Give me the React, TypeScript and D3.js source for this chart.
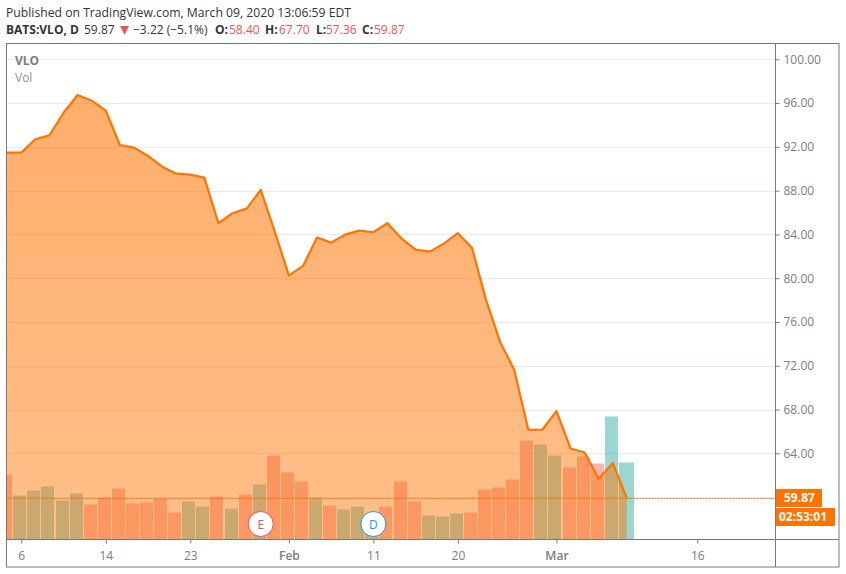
import React, { useEffect, useRef } from 'react';
import * as d3 from 'd3';

// trading-day index, 0 = Jan 6 2020; the first close sits just off the left edge
const closes = [
  91.47, 91.47, 91.47, 92.69, 93.06, 95.12, 96.74, 96.22, 95.31, 92.17, 91.93, 91.17, 90.19, 89.55, 89.46, 89.19,
  85.02, 85.94, 86.36, 88.06, 84.26, 80.24, 81.12, 83.71, 83.25, 83.98, 84.35, 84.2, 85.02, 83.62, 82.61, 82.43,
  83.16, 84.11, 82.79, 78.02, 74.18, 71.63, 66.15, 66.15, 67.85, 64.44, 64.07, 61.67, 63.1, 59.87
];
const firstCloseIndex = -2;

// volume bars start at index -1, heights in arbitrary volume units
const volumes = [
  65, 44, 49, 53, 39, 46, 35, 42, 51, 36, 37, 41, 27, 38, 33, 43, 31, 45, 55, 84, 67, 58, 42, 34, 30, 33, 26,
  33, 58, 38, 24, 23, 26, 27, 50, 52, 60, 99, 95, 84, 72, 83, 76, 123, 77
];
const volumeUp = [
  0, 1, 1, 1, 1, 1, 0, 0, 0, 0, 0, 0, 0, 1, 1, 0, 1, 0, 1, 0, 0, 0, 1, 0, 1, 1, 1,
  0, 0, 0, 1, 1, 1, 0, 0, 0, 0, 0, 1, 1, 0, 0, 0, 1, 1
];
const firstVolumeIndex = -1;

const priceTicks = [64, 68, 72, 76, 80, 84, 88, 92, 96, 100];
const gridPrices = [60, 64, 68, 72, 76, 80, 84, 88, 92, 96, 100];
const dateTickIndex = [0, 6, 12, 19, 25, 31, 38, 48];
const dateTickLabels = ['6', '14', '23', 'Feb', '11', '20', 'Mar', '16'];
const lastPrice = 59.87;
const earningsIndex = 17;
const dividendIndex = 25;

const axisColor = '#787878';
const tickText = '#7d7d7d';
const orange = '#ff7400';
const red = '#ef5350';

const X0 = 6.5, X1 = 775.5, X2 = 839, Y0 = 43.5, Y1 = 539.5, Y2 = 567;
const FONT = '"Open Sans", sans-serif';

export default function App() {
  const svgRef = useRef<SVGSVGElement>(null);

  useEffect(() => {
    if (!svgRef.current) return;
    const svg = d3.select(svgRef.current);
    svg.selectAll('*').remove();

    const x = d3.scaleLinear().domain([0, 48]).range([21.3, 697.3]);
    const y = d3.scaleLinear().domain([64, 100]).range([453.3, 59.3]);
    const vol = d3.scaleLinear().domain([0, 100]).range([Y1, Y1 - 100]);

    const defs = svg.append('defs');
    defs.append('clipPath').attr('id', 'plot')
      .append('rect').attr('x', X0).attr('y', Y0).attr('width', X1 - X0).attr('height', Y1 - Y0);
    const grad = defs.append('linearGradient').attr('id', 'areaFill')
      .attr('gradientUnits', 'userSpaceOnUse')
      .attr('x1', 0).attr('x2', 0).attr('y1', 95).attr('y2', Y1);
    grad.append('stop').attr('offset', 0).attr('stop-color', orange).attr('stop-opacity', 0.58);
    grad.append('stop').attr('offset', 1).attr('stop-color', orange).attr('stop-opacity', 0.46);

    // grid
    svg.append('g').selectAll('line').data(gridPrices).enter().append('line')
      .attr('x1', X0).attr('x2', X1)
      .attr('y1', d => Math.round(y(d)) + 0.5).attr('y2', d => Math.round(y(d)) + 0.5)
      .attr('stroke', '#e3ebf1');

    const plot = svg.append('g').attr('clip-path', 'url(#plot)');

    // volume
    plot.selectAll('rect.vol').data(volumes).enter().append('rect')
      .attr('class', 'vol')
      .attr('x', (d, i) => Math.round(x(i + firstVolumeIndex) - 8))
      .attr('width', (d, i) => (i === volumes.length - 1 ? 15 : 13))
      .attr('y', d => vol(d))
      .attr('height', d => Y1 - vol(d))
      .attr('fill', (d, i) => (volumeUp[i] ? '#26a69a' : red))
      .attr('fill-opacity', (d, i) => (volumeUp[i] ? 0.46 : 0.43));

    // price area + line
    const idx = (d: number, i: number) => x(i + firstCloseIndex);
    const area = d3.area<number>().x(idx).y0(Y1).y1(d => y(d));
    const line = d3.line<number>().x(idx).y(d => y(d));
    plot.append('path').attr('d', area(closes)).attr('fill', 'url(#areaFill)');
    plot.append('path').attr('d', line(closes))
      .attr('fill', 'none').attr('stroke', orange).attr('stroke-width', 2.2).attr('stroke-linejoin', 'round');

    // last price line
    const ly = Math.floor(y(lastPrice));
    svg.append('line')
      .attr('x1', X0).attr('x2', X1)
      .attr('y1', ly + 0.5).attr('y2', ly + 0.5)
      .attr('stroke', orange).attr('stroke-width', 1.2).attr('stroke-dasharray', '2 1');

    // axes
    const yAxis = d3.axisRight(y).tickValues(priceTicks).tickSize(4).tickPadding(4).tickFormat(d => d3.format('.2f')(d as number));
    const xAxis = d3.axisBottom(x).tickValues(dateTickIndex).tickSize(4).tickPadding(8)
      .tickFormat((d, i) => dateTickLabels[i]);

    const yG = svg.append('g').attr('transform', `translate(${X1},0)`).call(yAxis);
    const xG = svg.append('g').attr('transform', `translate(0,${Y1})`).call(xAxis);
    [yG, xG].forEach(g => {
      g.select('.domain').remove();
      g.selectAll('.tick line').attr('stroke', axisColor);
      g.selectAll('.tick text').attr('fill', tickText).style('font-family', FONT).style('font-size', '12px');
    });
    xG.selectAll('.tick text')
      .style('font-weight', (d, i) => (dateTickLabels[i] === 'Feb' || dateTickLabels[i] === 'Mar' ? 600 : 400));

    // frame
    svg.append('rect').attr('x', X0).attr('y', Y0).attr('width', X2 - X0).attr('height', Y2 - Y0)
      .attr('fill', 'none').attr('stroke', axisColor);
    svg.append('line').attr('x1', X1).attr('x2', X1).attr('y1', Y0).attr('y2', Y2).attr('stroke', axisColor);
    svg.append('line').attr('x1', X0).attr('x2', X2).attr('y1', Y1).attr('y2', Y1).attr('stroke', axisColor);

    // last price tick and labels
    svg.append('line').attr('x1', X1).attr('x2', X1 + 4).attr('y1', ly + 0.5).attr('y2', ly + 0.5).attr('stroke', orange);
    svg.append('rect').attr('x', 776).attr('y', ly - 9).attr('width', 46).attr('height', 18).attr('fill', orange);
    svg.append('rect').attr('x', 776).attr('y', ly + 10).attr('width', 59).attr('height', 18).attr('fill', orange);
    const boxText = (tx: number, ty: number, s: string) =>
      svg.append('text').attr('x', tx).attr('y', ty).attr('fill', 'white')
        .style('font-family', FONT).style('font-size', '12px').style('font-weight', 700).text(s);
    boxText(784, ly + 4, lastPrice.toFixed(2));
    boxText(779, ly + 23, '02:53:01');

    // earnings / dividend markers
    const marker = (i: number, s: string, c: string) => {
      svg.append('circle').attr('cx', x(i)).attr('cy', 524).attr('r', 12.5)
        .attr('fill', 'white').attr('stroke', c).attr('stroke-width', 1);
      svg.append('text').attr('x', x(i)).attr('y', 528.5).attr('text-anchor', 'middle').attr('fill', c)
        .style('font-family', FONT).style('font-size', '12px').text(s);
    };
    marker(earningsIndex, 'E', '#f0505a');
    marker(dividendIndex, 'D', '#2196f3');

    // header
    const label = (tx: number, ty: number, s: string, fill: string, weight = 400, size = 12) =>
      svg.append('text').attr('x', tx).attr('y', ty).attr('fill', fill)
        .style('font-family', FONT).style('font-size', `${size}px`).style('font-weight', weight).text(s);
    label(6, 17, 'Published on TradingView.com, March 09, 2020 13:06:59 EDT', '#333', 400, 12.2);
    label(6, 34, 'BATS:VLO, D', '#333', 700);
    label(84, 34, '59.87', '#333');
    svg.append('path').attr('d', d3.line()([[120, 26], [129, 26], [124.5, 35]]) + 'Z').attr('fill', red);
    label(133, 34, '\u22123.22 (\u22125.1%)', '#333');
    label(215, 34, 'O:', '#333', 700);
    label(229, 34, '58.40', red);
    label(265, 34, 'H:', '#333', 700);
    label(279, 34, '67.70', red);
    label(316, 34, 'L:', '#333', 700);
    label(326, 34, '57.36', red);
    label(362, 34, 'C:', '#333', 700);
    label(374, 34, '59.87', red);

    label(15, 65, 'VLO', '#7d7d7d', 700);
    label(15, 82, 'Vol', '#8f8f8f');
  }, []);

  return (
    <svg ref={svgRef} width={846} height={574}
      style={{ position: 'absolute', left: 0, top: 0, background: 'white' }} />
  );
}
